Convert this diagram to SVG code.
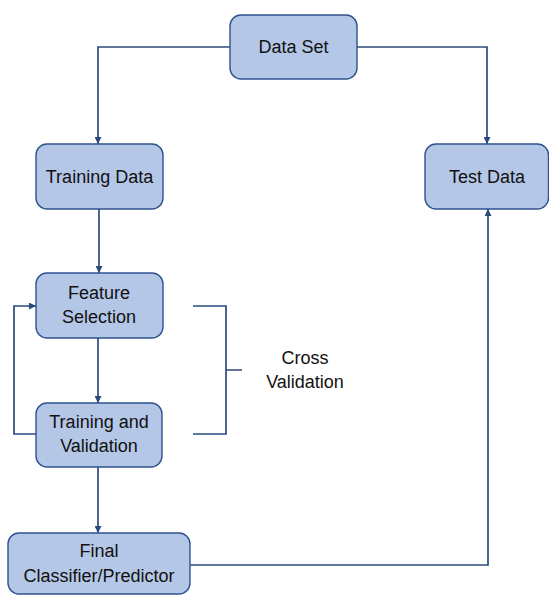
<svg xmlns="http://www.w3.org/2000/svg" width="549" height="595" viewBox="0 0 549 595">
<style>
.box{fill:#b4c7e7;stroke:#2f528f;stroke-width:1.4}
.lbl{font-family:"Liberation Sans",Arial,sans-serif;font-size:18px;fill:#111;text-anchor:middle}
.ln{fill:none;stroke:#2c4a7c;stroke-width:1.7}
</style>
<defs>
<marker id="ah" viewBox="0 0 10 10" refX="10" refY="5" markerWidth="7" markerHeight="7" markerUnits="userSpaceOnUse" orient="auto">
<path d="M0,0 L10,5 L0,10 z" fill="#2c4a7c"/>
</marker>
</defs>
<rect width="549" height="595" fill="#fff"/>
<g id="connectors">
<path class="ln" d="M230,47 H98 V144" marker-end="url(#ah)"/>
<path class="ln" d="M357,47 H487 V144" marker-end="url(#ah)"/>
<path class="ln" d="M99,209 V273" marker-end="url(#ah)"/>
<path class="ln" d="M98,338 V403" marker-end="url(#ah)"/>
<path class="ln" d="M36,434 H14 V306 H36" marker-end="url(#ah)"/>
<path class="ln" d="M98,467 V533" marker-end="url(#ah)"/>
<path class="ln" d="M190,565 H488 V209" marker-end="url(#ah)"/>
<path class="ln" d="M193,306 H226 V434 H193 M226,370 H242"/>
</g>
<g id="data-set">
<rect class="box" x="230" y="15" width="127" height="64" rx="11"/>
<text class="lbl" x="293.5" y="53">Data Set</text>
</g>
<g id="training-data">
<rect class="box" x="36" y="144" width="127" height="65" rx="11"/>
<text class="lbl" x="99.5" y="183">Training Data</text>
</g>
<g id="test-data">
<rect class="box" x="425" y="144" width="123.5" height="65" rx="11"/>
<text class="lbl" x="487" y="183">Test Data</text>
</g>
<g id="feature-selection">
<rect class="box" x="36" y="273" width="127" height="65" rx="11"/>
<text class="lbl" x="99" y="299">Feature</text>
<text class="lbl" x="99" y="323">Selection</text>
</g>
<g id="training-validation">
<rect class="box" x="36" y="403" width="126" height="64" rx="11"/>
<text class="lbl" x="99" y="428">Training and</text>
<text class="lbl" x="99" y="452">Validation</text>
</g>
<g id="final">
<rect class="box" x="8" y="533" width="182" height="61" rx="11"/>
<text class="lbl" x="99" y="557">Final</text>
<text class="lbl" x="99" y="582">Classifier/Predictor</text>
</g>
<g id="cross-validation">
<text class="lbl" x="305" y="364">Cross</text>
<text class="lbl" x="305" y="388">Validation</text>
</g>
</svg>
